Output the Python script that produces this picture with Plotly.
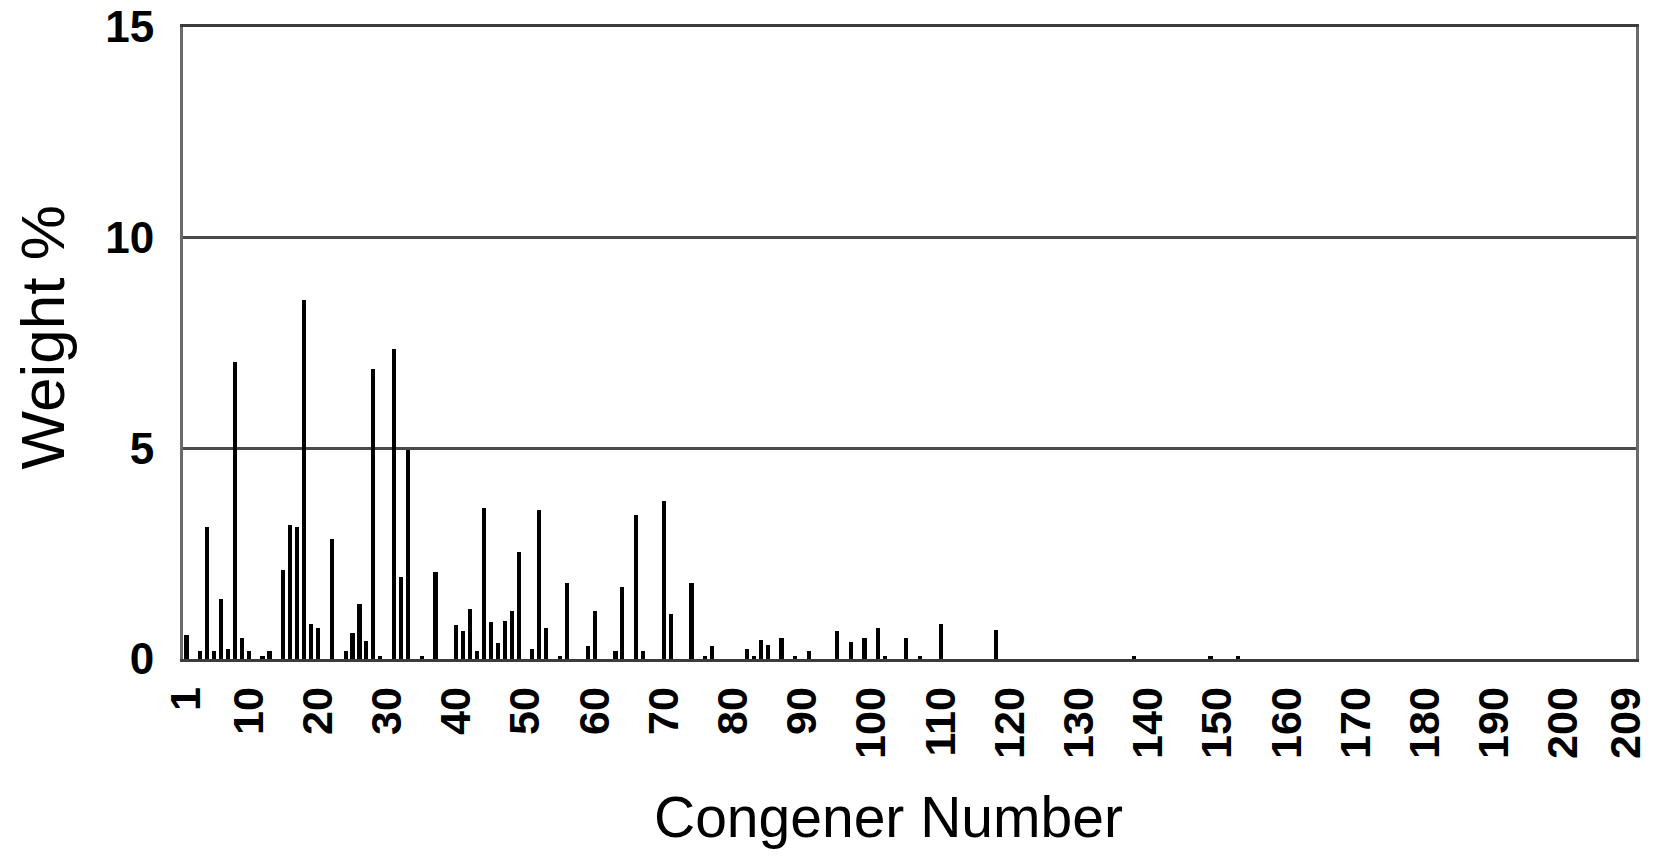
import plotly.graph_objects as go

# Congener numbers with non-zero weight % (all other congeners 1..209 are zero)
congener_ids = [1, 3, 4, 5, 6, 7, 8, 9, 10, 12, 13, 15, 16, 17, 18, 19, 20, 22, 24, 25,
                26, 27, 28, 29, 31, 32, 33, 35, 37, 40, 41, 42, 43, 44, 45, 46, 47, 48, 49,
                51, 52, 53, 55, 56, 59, 60, 63, 64, 66, 67, 70, 71, 74, 76, 77, 82, 83, 84,
                85, 87, 89, 91, 95, 97, 99, 101, 102, 105, 107, 110, 118, 138, 149, 153]
weight_pct = [0.57, 0.2, 3.13, 0.18, 1.43, 0.24, 7.06, 0.5, 0.2, 0.08, 0.2, 2.12, 3.19, 3.13,
              8.53, 0.83, 0.73, 2.85, 0.18, 0.62, 1.31, 0.42, 6.89, 0.08, 7.36, 1.94, 4.95,
              0.08, 2.06, 0.8, 0.66, 1.19, 0.2, 3.58, 0.87, 0.38, 0.91, 1.15, 2.54, 0.24,
              3.53, 0.73, 0.08, 1.8, 0.3, 1.15, 0.18, 1.71, 3.42, 0.18, 3.76, 1.07, 1.8,
              0.08, 0.3, 0.24, 0.08, 0.45, 0.34, 0.5, 0.08, 0.2, 0.66, 0.4, 0.5, 0.74, 0.08,
              0.5, 0.08, 0.83, 0.68, 0.06, 0.06, 0.06]

all_congeners = list(range(1, 210))
lookup = dict(zip(congener_ids, weight_pct))
values = [lookup.get(c, 0.0) for c in all_congeners]

x_tick_vals = [1, 10, 20, 30, 40, 50, 60, 70, 80, 90, 100, 110, 120, 130, 140, 150,
               160, 170, 180, 190, 200, 209]
x_tick_text = [str(v) for v in x_tick_vals]
y_tick_vals = [0, 5, 10, 15]

FONT = "Liberation Sans, Arial, sans-serif"

fig = go.Figure()
fig.add_trace(go.Bar(x=all_congeners, y=values, width=0.6,
                     marker=dict(color="#000000", line=dict(width=0))))

fig.update_layout(
    template="none",
    width=1661, height=857,
    margin=dict(l=183, r=25, t=27, b=198, pad=0),
    paper_bgcolor="white", plot_bgcolor="white",
    showlegend=False,
    font=dict(family=FONT, color="black"),
    bargap=0,
)
fig.update_xaxes(
    automargin=False,
    range=[0.5, 210.5], tickmode="array", tickvals=x_tick_vals, ticktext=x_tick_text,
    tickangle=-90, tickfont=dict(family=FONT, size=43, color="black", weight="bold"),
    showgrid=False, zeroline=False, ticks="",
    showline=True, linecolor="#3c3c3c", linewidth=3, mirror=True,
    ticklabelstandoff=8, ticklabeloverflow="allow",
)
fig.update_yaxes(
    automargin=False,
    range=[0, 15], tickmode="array", tickvals=y_tick_vals,
    tickfont=dict(family=FONT, size=44, color="black", weight="bold"),
    showgrid=True, gridcolor="#4a4a4a", gridwidth=2.5, zeroline=False, ticks="",
    showline=True, linecolor="#6a6a6a", linewidth=3, mirror=True,
    ticklabelstandoff=17, ticklabeloverflow="allow",
)
fig.add_annotation(text="Weight %", xref="paper", yref="paper",
                   x=(42 - 183) / 1453, y=(658.5 - 337) / 631.8,
                   xanchor="center", yanchor="middle", textangle=-90, showarrow=False,
                   font=dict(family=FONT, size=62, color="black"))
fig.add_annotation(text="Congener Number", xref="paper", yref="paper",
                   x=(888 - 183) / 1453, y=(658.5 - 816) / 631.8,
                   xanchor="center", yanchor="middle", showarrow=False,
                   font=dict(family=FONT, size=57, color="black"))

# remove the default 8px page margin so the figure sits at the window's corner
fig.write_html("out.html", config={"displayModeBar": False},
               post_script="document.body.style.margin='0';")
